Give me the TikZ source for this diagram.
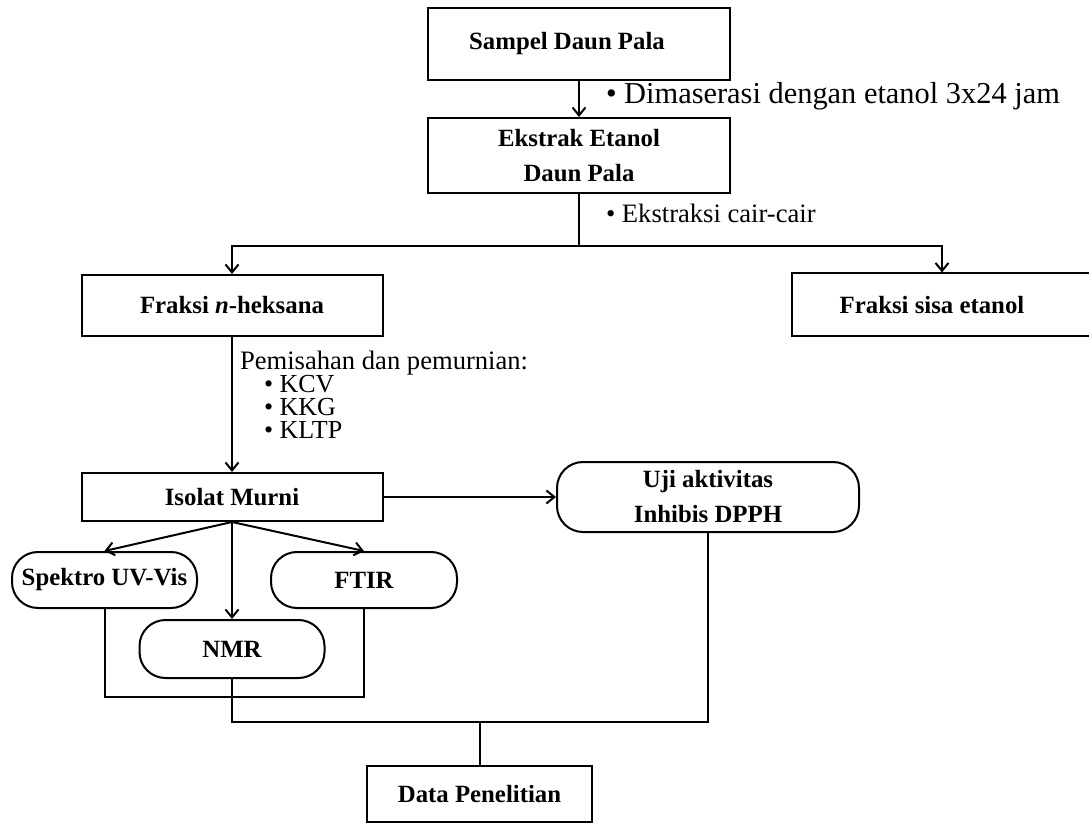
\documentclass[tikz,border=0pt]{standalone}
\usepackage{fontspec}
\setmainfont{Liberation Serif}
\usetikzlibrary{arrows.meta}

\begin{document}
\begin{tikzpicture}[x=0.5pt, y=-0.5pt, line width=1pt,
    box/.style={draw, align=center, inner sep=2pt, font=\fontsize{12.4}{17.5}\selectfont\bfseries},
    pill/.style={box, rounded corners=13pt},
    note/.style={font=\fontsize{13.3}{15}\selectfont, anchor=base west, inner sep=0pt},
    arr/.style={-{Straight Barb[length=4pt, width=6.5pt]}}]
    \useasboundingbox (0,0) rectangle (1089,824);

    % extraction steps
    \node[box, minimum width=151pt, minimum height=36pt] (sampel) at (579,44) {Sampel Daun Pala\hspace*{12pt}};
    \node[box, minimum width=151pt, minimum height=37.5pt] (ekstrak) at (579,155.5) {Ekstrak Etanol\\Daun Pala};
    \node[box, minimum width=150.5pt, minimum height=30.5pt] (heksana) at (232,305.5) {Fraksi \textit{n}-heksana};
    \node[box, minimum width=150pt, minimum height=31.5pt] (sisa) at (942,305) {Fraksi sisa etanol\hspace*{10pt}};
    \node[box, minimum width=150.5pt, minimum height=24pt] (isolat) at (232,497) {Isolat Murni};
    \node[pill, minimum width=151pt, minimum height=35pt] (uji) at (708,497) {Uji aktivitas\\Inhibis DPPH};

    % characterisation
    \node[pill, minimum width=92.5pt, minimum height=28pt] (spektro) at (104.5,580) {Spektro UV-Vis};
    \node[pill, minimum width=93pt, minimum height=28pt] (ftir) at (364,580) {FTIR};
    \node[pill, minimum width=92.5pt, minimum height=29pt] (nmr) at (232,649) {NMR};
    \node[box, minimum width=112.5pt, minimum height=28pt] (data) at (479.5,794) {Data Penelitian};

    % notes beside the arrows
    \node[note, font=\fontsize{15.2}{17}\selectfont] (maserasi) at (605,104) {\textbullet\ Dimaserasi dengan etanol 3x24 jam};
    \node[note] (ekstraksi) at (605,223) {\textbullet\ Ekstraksi cair-cair};
    \node[note] (pemurnian) at (239,370) {Pemisahan dan pemurnian:};
    \node[note, font=\fontsize{13}{15}\selectfont] (kcv) at (263,393) {\textbullet\ KCV};
    \node[note, font=\fontsize{13}{15}\selectfont] (kkg) at (263,415.5) {\textbullet\ KKG};
    \node[note, font=\fontsize{13}{15}\selectfont] (kltp) at (263,438) {\textbullet\ KLTP};

    \coordinate (cabang) at (579,246);
    \coordinate (gabung) at (479.5,722);
    \coordinate (spek) at (236,697);

    \draw[arr] (sampel) -- (ekstrak);
    \draw (ekstrak) -- (cabang);
    \draw[arr] (cabang) -| (heksana);
    \draw[arr] (cabang) -| (sisa);
    \draw[arr] (heksana) -- (isolat);
    \draw[arr] (isolat) -- (uji);
    \draw[arr] (isolat.south) -- (spektro.north);
    \draw[arr] (isolat.south) -- (ftir.north);
    \draw[arr] (isolat) -- (nmr);
    \draw (spektro) |- (spek) -| (ftir);
    \draw (nmr) |- (gabung) -| (uji);
    \draw (gabung) -- (data);
\end{tikzpicture}
\end{document}
